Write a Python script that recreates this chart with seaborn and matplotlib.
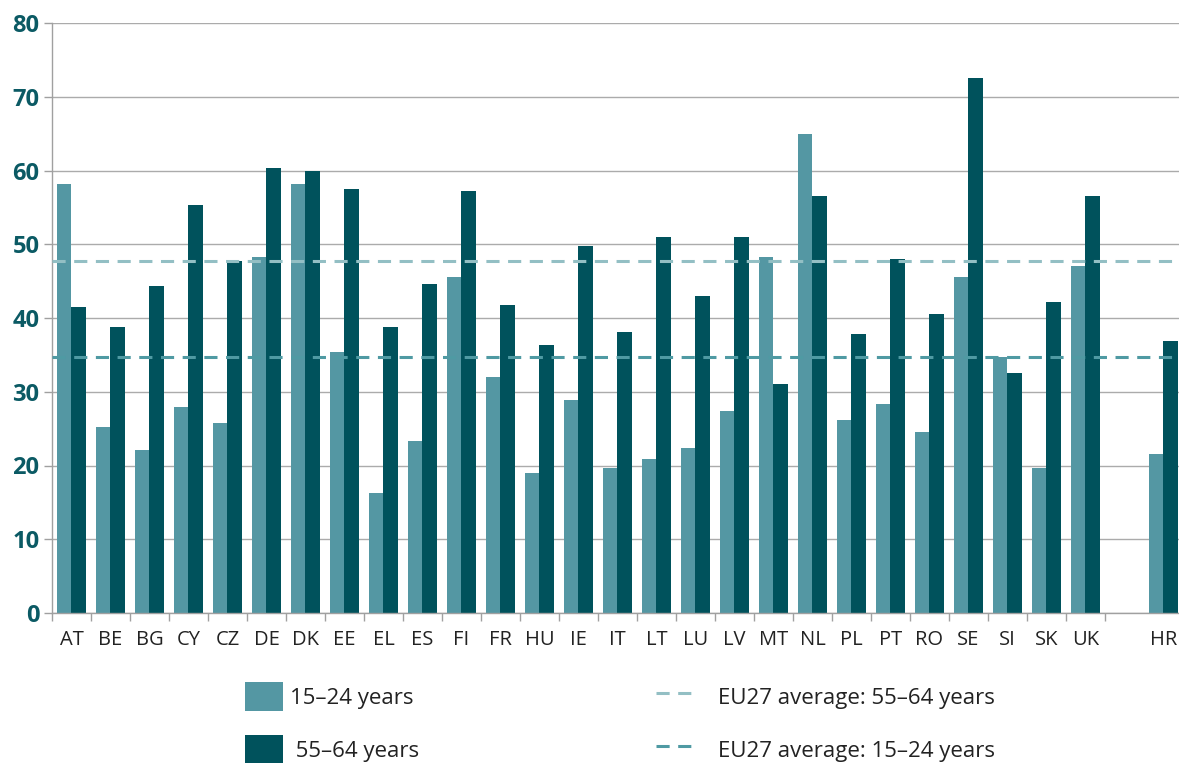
import matplotlib
matplotlib.use("Agg")
import matplotlib.pyplot as plt
import seaborn as sns
import pandas as pd
import numpy as np
from matplotlib.patches import Patch
from matplotlib.lines import Line2D

countries = ["AT", "BE", "BG", "CY", "CZ", "DE", "DK", "EE", "EL", "ES", "FI", "FR",
             "HU", "IE", "IT", "LT", "LU", "LV", "MT", "NL", "PL", "PT", "RO", "SE",
             "SI", "SK", "UK", "HR"]
young = [58.2, 25.2, 22.1, 27.9, 25.8, 48.3, 58.2, 35.4, 16.3, 23.3, 45.6, 32.0,
         19.0, 28.9, 19.7, 20.9, 22.4, 27.4, 48.3, 64.9, 26.2, 28.3, 24.5, 45.6,
         34.7, 19.7, 47.1, 21.6]
old = [41.5, 38.8, 44.3, 55.3, 47.7, 60.3, 59.9, 57.5, 38.8, 44.6, 57.2, 41.8,
       36.3, 49.8, 38.1, 51.0, 43.0, 51.0, 31.0, 56.5, 37.8, 48.0, 40.5, 72.5,
       32.5, 42.2, 56.5, 36.9]
eu_old = 47.7
eu_young = 34.7
series = ["15–24 years", "55–64 years"]
yticks = [0, 10, 20, 30, 40, 50, 60, 70, 80]

c_young = "#5497a3"
c_old = "#00525c"
c_avg_old = "#93bfc4"
c_avg_young = "#4f9aa3"

sns.set_theme(style="white")
plt.rcParams["font.family"] = ["Open Sans", "DejaVu Sans"]

df = pd.DataFrame({
    "country": countries * 2,
    "value": young + old,
    "group": [series[0]] * len(countries) + [series[1]] * len(countries),
})
order = countries[:27] + [" "] + ["HR"]

fig = plt.figure(figsize=(11.79, 7.63), dpi=100)
ax = fig.add_axes([52 / 1179, 1 - 613 / 763, 1 - 52 / 1179, 590 / 763])

sns.barplot(data=df, x="country", y="value", hue="group", order=order,
            hue_order=series, palette=[c_young, c_old], saturation=1,
            width=0.74, linewidth=0, legend=False, ax=ax, zorder=2)

ax.axhline(eu_old, color=c_avg_old, lw=2.2, ls=(0, (4.3, 2.8)), zorder=3)
ax.axhline(eu_young, color=c_avg_young, lw=2.2, ls=(0, (4.3, 2.8)), zorder=3)

ax.set_ylim(0, 80)
ax.set_xlim(-0.5, 28.4)
ax.set_yticks(yticks)
ax.yaxis.grid(True, color="#ababab", lw=1.0, zorder=0)
ax.set_axisbelow(True)
ax.set_xlabel("")
ax.set_ylabel("")

for s in ["top", "right"]:
    ax.spines[s].set_visible(False)
for s in ["left", "bottom"]:
    ax.spines[s].set_color("#a0a0a0")
    ax.spines[s].set_linewidth(1.0)

ax.tick_params(axis="y", length=6, width=1, color="#a0a0a0", pad=3, left=True)
for lab in ax.get_yticklabels():
    lab.set_fontfamily(["Open Sans", "DejaVu Sans"])
    lab.set_fontweight("bold")
    lab.set_fontsize(17)
    lab.set_color("#0b5a64")

ax.tick_params(axis="x", which="major", length=0, pad=12, labelsize=14.5, labelcolor="#222222")
ax.set_xticks(np.arange(-0.5, 27, 1), minor=True)
ax.tick_params(axis="x", which="minor", length=6, width=1, color="#a0a0a0", bottom=True)

h1 = [Patch(facecolor=c_young, edgecolor="none"), Patch(facecolor=c_old, edgecolor="none")]
fig.legend(h1, ["15–24 years", " 55–64 years"], loc="upper left",
           bbox_to_anchor=(236 / 1179, 1 - 673 / 763), frameon=False,
           fontsize=16, handlelength=1.7, handleheight=1.67,
           handletextpad=0.35, labelspacing=1.04, borderaxespad=0,
           labelcolor="#222222")
h2 = [Line2D([0], [0], color=c_avg_old, lw=2.2, ls=(0, (4.3, 2.8))),
      Line2D([0], [0], color=c_avg_young, lw=2.2, ls=(0, (4.3, 2.8)))]
fig.legend(h2, ["EU27 average: 55–64 years", "EU27 average: 15–24 years"],
           loc="upper left", bbox_to_anchor=(647 / 1179, 1 - 673 / 763),
           frameon=False, fontsize=16, handlelength=1.9, handleheight=1.67,
           handletextpad=0.9, labelspacing=1.04, borderaxespad=0,
           labelcolor="#222222")

fig.savefig("out.png", dpi=100)
